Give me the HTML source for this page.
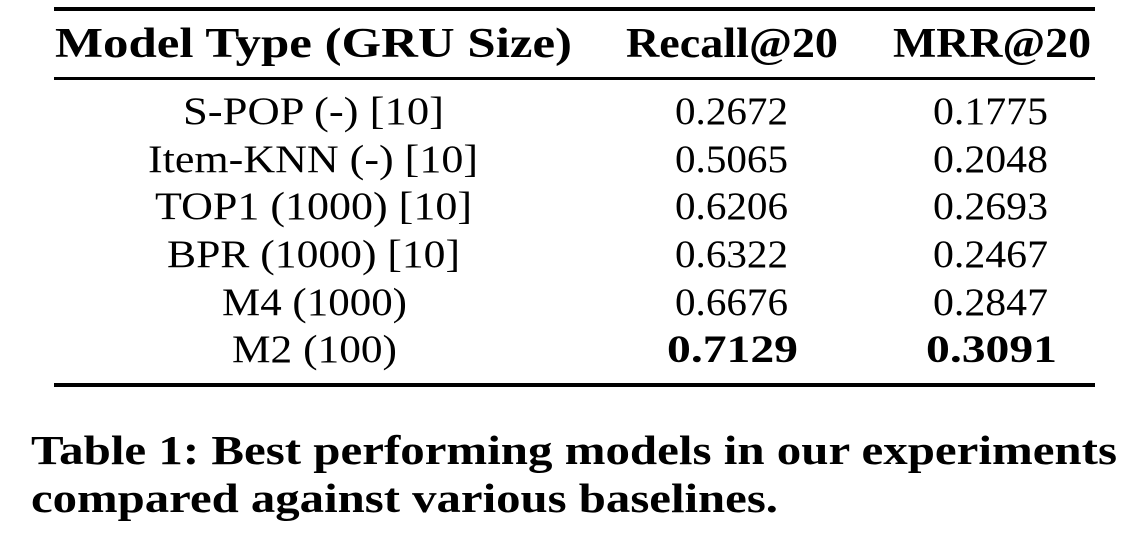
<!DOCTYPE html>
<html>
<head>
<meta charset="utf-8">
<style>
  html, body { margin:0; padding:0; background:#fff; }
  body { width:1138px; height:542px; overflow:hidden; }
  svg { display:block; }
  text { font-family: "Liberation Serif", "DejaVu Serif", serif; fill:#000; }
  .b { font-weight:bold; }
</style>
</head>
<body>
<svg width="1138" height="542" viewBox="0 0 1138 542" xmlns="http://www.w3.org/2000/svg">
  <rect x="0" y="0" width="1138" height="542" fill="#fff"/>
  <!-- rules -->
  <rect x="54" y="7" width="1041" height="4" fill="#000"/>
  <rect x="54" y="77" width="1041" height="3" fill="#000"/>
  <rect x="54" y="383" width="1041" height="4" fill="#000"/>

  <!-- header -->
  <text class="b" x="55" y="57" font-size="42" textLength="517" lengthAdjust="spacingAndGlyphs">Model Type (GRU Size)</text>
  <text class="b" x="626" y="57" font-size="42" textLength="212" lengthAdjust="spacingAndGlyphs">Recall@20</text>
  <text class="b" x="893" y="57" font-size="42" textLength="198" lengthAdjust="spacingAndGlyphs">MRR@20</text>

  <!-- model column -->
  <text x="183" y="124" font-size="39" textLength="261" lengthAdjust="spacingAndGlyphs">S-POP (-) [10]</text>
  <text x="148" y="172" font-size="39" textLength="330" lengthAdjust="spacingAndGlyphs">Item-KNN (-) [10]</text>
  <text x="155" y="219" font-size="39" textLength="317" lengthAdjust="spacingAndGlyphs">TOP1 (1000) [10]</text>
  <text x="167" y="267" font-size="39" textLength="293" lengthAdjust="spacingAndGlyphs">BPR (1000) [10]</text>
  <text x="222" y="315" font-size="39" textLength="185" lengthAdjust="spacingAndGlyphs">M4 (1000)</text>
  <text x="232" y="362" font-size="39" textLength="165" lengthAdjust="spacingAndGlyphs">M2 (100)</text>

  <!-- recall column -->
  <text x="675" y="124" font-size="39" textLength="113" lengthAdjust="spacingAndGlyphs">0.2672</text>
  <text x="675" y="172" font-size="39" textLength="113" lengthAdjust="spacingAndGlyphs">0.5065</text>
  <text x="675" y="219" font-size="39" textLength="113" lengthAdjust="spacingAndGlyphs">0.6206</text>
  <text x="675" y="267" font-size="39" textLength="113" lengthAdjust="spacingAndGlyphs">0.6322</text>
  <text x="675" y="315" font-size="39" textLength="113" lengthAdjust="spacingAndGlyphs">0.6676</text>
  <text class="b" x="667" y="362" font-size="39" textLength="131" lengthAdjust="spacingAndGlyphs">0.7129</text>

  <!-- MRR column -->
  <text x="933" y="124" font-size="39" textLength="115" lengthAdjust="spacingAndGlyphs">0.1775</text>
  <text x="933" y="172" font-size="39" textLength="115" lengthAdjust="spacingAndGlyphs">0.2048</text>
  <text x="933" y="219" font-size="39" textLength="115" lengthAdjust="spacingAndGlyphs">0.2693</text>
  <text x="933" y="267" font-size="39" textLength="115" lengthAdjust="spacingAndGlyphs">0.2467</text>
  <text x="933" y="315" font-size="39" textLength="115" lengthAdjust="spacingAndGlyphs">0.2847</text>
  <text class="b" x="926" y="362" font-size="39" textLength="131" lengthAdjust="spacingAndGlyphs">0.3091</text>

  <!-- caption -->
  <text class="b" x="31" y="464" font-size="41" textLength="1086" lengthAdjust="spacingAndGlyphs">Table 1: Best performing models in our experiments</text>
  <text class="b" x="31" y="512" font-size="41" textLength="747" lengthAdjust="spacingAndGlyphs">compared against various baselines.</text>
</svg>
</body>
</html>
